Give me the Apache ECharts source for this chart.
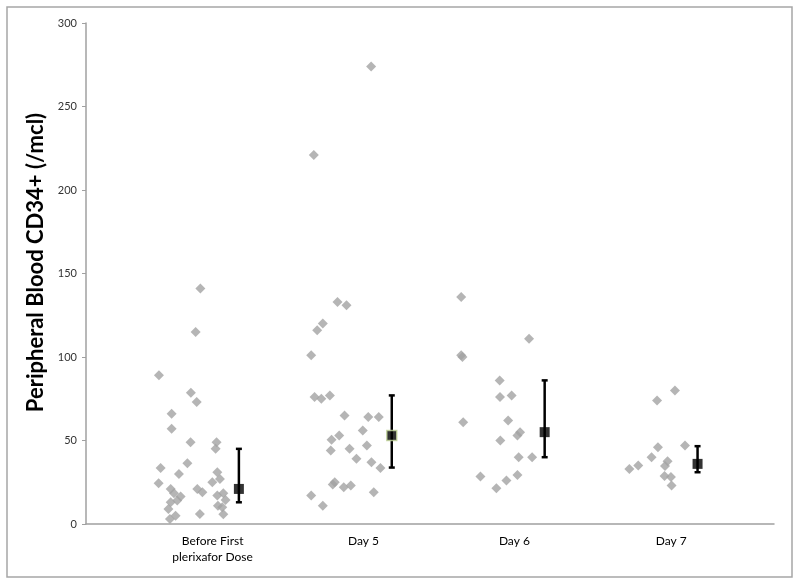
<!DOCTYPE html>
<html>
<head>
<meta charset="utf-8">
<script src="https://cdn.jsdelivr.net/npm/echarts@6/dist/echarts.min.js"></script>
<style>html,body{margin:0;padding:0;background:#fff}#c{width:800px;height:585px}</style>
</head>
<body>
<div id="c"></div>
<script>
// Group labels and their x positions on the value axis
var categories = ['Before First\nplerixafor Dose', 'Day 5', 'Day 6', 'Day 7'];
var labelX = [0.828, 1.815, 2.802, 3.828];
var yTicks = [0, 50, 100, 150, 200, 250, 300];

// Individual patient values (jittered x, value)
var g1x = [0.748,0.717,0.477,0.686,0.724,0.560,0.560,0.684,0.854,0.848,0.663,0.488,0.859,0.608,0.876,0.475,0.826,0.554,0.728,0.761,0.575,0.619,0.898,0.859,0.913,0.597,0.554,0.863,0.891,0.539,0.745,0.898,0.586,0.549];
var g1y = [141,115,89,78.6,73,66,57,49,49,45,36.4,33.6,31,30,27,24.4,25,21,21,19,18.4,16.4,18.4,17,14.4,14,13,11,10,9,6,5.8,5,3];
var g2x = [1.865,1.490,1.645,1.704,1.549,1.512,1.473,1.495,1.539,1.595,1.691,1.846,1.915,1.810,1.656,1.606,1.837,1.601,1.724,1.769,1.867,1.926,1.627,1.614,1.686,1.732,1.882,1.473,1.549];
var g2y = [274,221,133,131,120,116,101,76,75,77,65,64,64,56,53,50.4,47,44,45,39,37,33.6,25,23.6,22,23,19,17,11];
var g3x = [2.454,2.898,2.454,2.462,2.706,2.708,2.784,2.467,2.761,2.839,2.822,2.710,2.830,2.918,2.580,2.822,2.750,2.684];
var g3y = [136,111,101,100,86,76,77,61,62,55,53,50,40,40,28.4,29.4,26,21.4];
var g4x = [3.852,3.735,3.918,3.741,3.699,3.554,3.612,3.804,3.787,3.784,3.826,3.830];
var g4y = [80,74,47,46,40,33,35,37.6,34.8,28.8,28.2,23];

// Summary markers with ranges
var sumX = [1, 2, 3, 4];
var sumMid = [21, 53, 55, 36];
var sumLow = [13, 33.8, 40, 31];
var sumHigh = [45, 77, 86, 46.6];

var pts = [];
[[g1x,g1y],[g2x,g2y],[g3x,g3y],[g4x,g4y]].forEach(function(g){
  for (var i=0;i<g[0].length;i++) pts.push([g[0][i], g[1][i]]);
});
var errData = sumX.map(function(x,i){ return [x, sumLow[i], sumHigh[i]]; });
var midData = sumX.map(function(x,i){
  var d = {value:[x, sumMid[i]]};
  if (i === 1) d.itemStyle = {borderColor:'#c4d79b', borderWidth:1.5};
  return d;
});

var FONT = 'Lato';
var chart = echarts.init(document.getElementById('c'));
chart.setOption({
  animation:false,
  backgroundColor:'#fff',
  graphic:[{type:'rect', shape:{x:7,y:7,width:785,height:570}, style:{fill:'none', stroke:'#a6a6a6', lineWidth:1.5}, silent:true}],
  grid:{left:86, right:26, top:23, bottom:61},
  xAxis:{
    type:'value', min:0, max:4.5,
    splitLine:{show:false},
    axisLine:{show:true, onZero:false, lineStyle:{color:'#a0a0a0', width:1.5}},
    axisTick:{show:false},
    axisLabel:{
      show:true, customValues:labelX, margin:9, color:'#000', fontFamily:FONT, fontSize:12, lineHeight:16,
      formatter:function(v){
        var best=0; for (var i=1;i<labelX.length;i++){ if (Math.abs(labelX[i]-v)<Math.abs(labelX[best]-v)) best=i; }
        return categories[best];
      }
    }
  },
  yAxis:{
    type:'value', min:0, max:300, interval:50,
    splitLine:{show:false},
    axisLine:{show:true, lineStyle:{color:'#a0a0a0', width:1.5}},
    axisTick:{show:true, length:4, lineStyle:{color:'#a0a0a0'}},
    axisLabel:{color:'#333', fontFamily:FONT, fontSize:11, margin:9,
      formatter:function(v){ return yTicks.indexOf(v) >= 0 ? String(v) : ''; }},
    name:'Peripheral Blood CD34+ (/mcl)', nameLocation:'middle', nameGap:33,
    nameTextStyle:{color:'#000', fontFamily:FONT, fontSize:22, fontWeight:'bold', padding:[0,0,0,22]}
  },
  series:[
    {type:'scatter', data:pts, symbol:'diamond', symbolSize:10, itemStyle:{color:'#a3a3a3'}, z:2},
    {type:'custom', data:errData, z:3,
      renderItem:function(params, api){
        var x = api.value(0);
        var lo = api.coord([x, api.value(1)]);
        var hi = api.coord([x, api.value(2)]);
        var cw = 3;
        var st = {stroke:'#000', lineWidth:2.5};
        return {type:'group', children:[
          {type:'line', shape:{x1:lo[0], y1:lo[1], x2:hi[0], y2:hi[1]}, style:st},
          {type:'line', shape:{x1:lo[0]-cw, y1:lo[1], x2:lo[0]+cw, y2:lo[1]}, style:st},
          {type:'line', shape:{x1:hi[0]-cw, y1:hi[1], x2:hi[0]+cw, y2:hi[1]}, style:st}
        ]};
      }
    },
    {type:'scatter', data:midData, symbol:'rect', symbolSize:10, itemStyle:{color:'#000'}, z:4}
  ]
});
</script>
</body>
</html>
